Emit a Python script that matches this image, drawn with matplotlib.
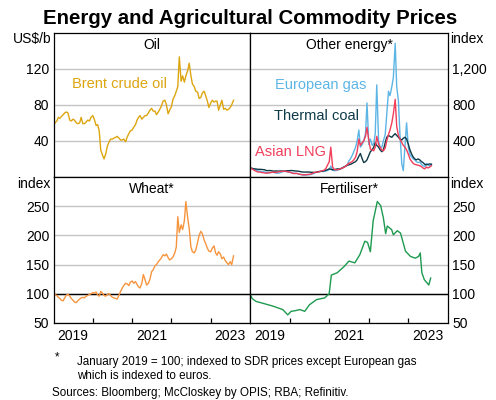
import pandas as pd
import matplotlib
matplotlib.use("Agg")
import matplotlib.pyplot as plt

plt.rcParams['font.family'] = ['Liberation Sans', 'DejaVu Sans']

# semi-monthly observations from Jan 2019 (1st and 15th of each month)
oil = [56, 60, 62, 66, 65, 67, 69, 71, 72, 71, 63, 62, 64, 63, 60, 59, 60, 66, 59, 59, 61, 63, 62, 66,
       68, 64, 57, 58, 51, 30, 24, 20, 26, 34, 39, 42, 42, 43, 44, 45, 43, 41, 41, 42, 39, 44, 48, 51,
       52, 55, 58, 63, 66, 68, 64, 66, 68, 68, 71, 74, 76, 73, 73, 69, 72, 75, 79, 84, 85, 80, 70, 74,
       78, 86, 90, 95, 100, 133, 106, 112, 105, 112, 118, 126, 112, 103, 100, 95, 94, 87, 88, 93, 95, 90, 84, 77,
       82, 85, 83, 84, 84, 74, 80, 85, 75, 76, 74, 75, 77, 80, 85]

euro_gas = [100, 92, 87, 82, 75, 68, 65, 60, 57, 56, 50, 47, 47, 50, 52, 50, 42, 42, 45, 52, 60, 62, 60, 55,
            52, 48, 43, 42, 40, 36, 30, 28, 22, 20, 22, 24, 25, 28, 35, 42, 52, 55, 60, 62, 61, 62, 66, 72,
            85, 120, 75, 70, 72, 74, 82, 88, 100, 110, 120, 130, 180, 200, 240, 280, 330, 400, 520, 330, 360, 400, 480, 820,
            360, 420, 350, 370, 480, 1020, 400, 330, 330, 400, 470, 690, 950, 900, 1000, 1100, 1480, 1000, 840, 470, 143, 70, 360, 600,
            320, 250, 220, 200, 190, 170, 160, 165, 140, 125, 115, 150, 135, 120, 143]

asian_lng = [100, 95, 80, 70, 62, 55, 55, 50, 48, 45, 42, 45, 48, 50, 55, 50, 52, 55, 60, 62, 62, 65, 62, 58,
             55, 48, 40, 38, 40, 38, 30, 28, 25, 25, 25, 28, 30, 32, 40, 50, 55, 52, 60, 65, 70, 75, 95, 130,
             170, 330, 110, 85, 80, 80, 85, 90, 100, 105, 120, 135, 150, 160, 170, 190, 220, 280, 420, 350, 380, 400, 450, 550,
             400, 310, 300, 290, 330, 450, 360, 330, 300, 290, 320, 400, 470, 520, 600, 700, 860, 560, 460, 420, 380, 350, 330, 300,
             250, 200, 170, 150, 140, 135, 130, 125, 115, 100, 90, 110, 100, 110, 125]

thermal_coal = [100, 98, 92, 90, 88, 85, 85, 84, 82, 80, 72, 70, 72, 70, 66, 65, 67, 65, 66, 67, 65, 66, 68, 70,
                70, 72, 70, 68, 66, 65, 62, 58, 55, 55, 54, 55, 55, 52, 52, 50, 52, 58, 60, 62, 65, 68, 75, 80,
                90, 85, 80, 82, 85, 90, 88, 92, 100, 110, 120, 130, 135, 140, 150, 160, 170, 190, 230, 260, 200, 160, 170, 190,
                240, 280, 300, 330, 380, 350, 330, 300, 280, 300, 380, 440, 460, 450, 440, 460, 480, 460, 440, 420, 410, 430, 440, 420,
                360, 300, 250, 220, 200, 190, 200, 190, 170, 160, 140, 135, 140, 145, 140]

wheat = [103, 99, 97, 94, 92, 89, 88, 93, 98, 99, 96, 92, 89, 86, 85, 88, 91, 93, 94, 93, 96, 97, 99, 100,
         102, 101, 103, 98, 96, 104, 101, 97, 96, 99, 100, 97, 94, 93, 92, 91, 98, 104, 110, 114, 118, 117, 114, 120,
         122, 118, 121, 116, 112, 110, 118, 133, 124, 115, 118, 125, 138, 141, 148, 150, 155, 158, 162, 167, 165, 168, 162, 158,
         160, 163, 170, 180, 232, 205, 218, 210, 225, 258, 230, 212, 180, 172, 170, 175, 188, 200, 207, 203, 192, 186, 178, 173,
         172, 178, 182, 170, 166, 172, 168, 160, 163, 157, 153, 150, 155, 150, 165]

fert_dates = ['2019-01-01', '2019-01-20', '2019-02-25', '2019-04-25', '2019-07-30', '2019-10-30', '2019-12-15',
              '2020-01-15', '2020-02-20', '2020-04-05', '2020-05-20', '2020-07-01', '2020-09-05', '2020-11-20',
              '2020-12-31', '2021-01-20', '2021-03-15', '2021-05-20', '2021-07-01', '2021-08-25', '2021-10-10',
              '2021-11-25', '2021-12-20', '2022-01-15', '2022-02-10', '2022-03-20', '2022-04-20', '2022-05-15',
              '2022-06-05', '2022-06-20', '2022-07-30', '2022-08-15', '2022-09-20', '2022-10-20', '2022-12-05',
              '2023-01-20', '2023-03-05', '2023-04-05', '2023-04-20', '2023-05-05', '2023-05-28', '2023-06-25',
              '2023-07-08', '2023-07-25']
fertiliser = [100, 92, 87, 84, 79, 73, 64, 70, 71, 73, 70, 81, 90, 93, 100, 132, 136, 147, 156, 153, 167,
              190, 188, 172, 225, 258, 251, 230, 203, 216, 210, 201, 208, 204, 173, 164, 161, 164, 170, 136,
              124, 118, 115, 127]

year_labels = ['2019', '2021', '2023']
label_dates = ['2019-07-01', '2021-07-01', '2023-07-01']

C_OIL = '#DDA50F'
C_GAS = '#5DB5E5'
C_COAL = '#0E3A48'
C_LNG = '#F03E5B'
C_WHEAT = '#F7953F'
C_FERT = '#1E9A50'
GRID = '#C4C4C4'


def semi_monthly(vals):
    return pd.date_range('2019-01-01', periods=len(vals), freq='SMS')


fig = plt.figure(figsize=(4.96, 4.0), dpi=100)
W, H = 496.0, 400.0
x0, xm, x1 = 53.5, 250, 448
ytop, ymid, ybot = 32.5, 177, 323
ax_oil = fig.add_axes([x0 / W, 1 - ymid / H, (xm - x0) / W, (ymid - ytop) / H])
ax_en = fig.add_axes([xm / W, 1 - ymid / H, (x1 - xm) / W, (ymid - ytop) / H])
ax_wh = fig.add_axes([x0 / W, 1 - ybot / H, (xm - x0) / W, (ybot - ymid) / H])
ax_fe = fig.add_axes([xm / W, 1 - ybot / H, (x1 - xm) / W, (ybot - ymid) / H])

ax_oil.plot(semi_monthly(oil), oil, color=C_OIL, lw=1.0)
ax_en.plot(semi_monthly(euro_gas), euro_gas, color=C_GAS, lw=1.0)
ax_en.plot(semi_monthly(thermal_coal), thermal_coal, color=C_COAL, lw=1.0)
ax_en.plot(semi_monthly(asian_lng), asian_lng, color=C_LNG, lw=1.0)
ax_wh.plot(semi_monthly(wheat), wheat, color=C_WHEAT, lw=1.0)
ax_fe.plot(pd.to_datetime(fert_dates), fertiliser, color=C_FERT, lw=1.0)

ax_oil.set_ylim(0, 160)
ax_oil.set_yticks([40, 80, 120])
ax_en.set_ylim(0, 1600)
ax_en.set_yticks([400, 800, 1200])
ax_en.set_yticklabels(['400', '800', '1,200'])
for ax in (ax_wh, ax_fe):
    ax.set_ylim(50, 300)
    ax.set_yticks([50, 100, 150, 200, 250])
    ax.axhline(100, color='black', lw=1.0, zorder=1)

for ax in (ax_en, ax_fe):
    ax.yaxis.tick_right()

for ax in (ax_oil, ax_en, ax_wh, ax_fe):
    ax.set_xlim(pd.Timestamp('2019-01-01'), pd.Timestamp('2024-01-01'))
    ax.grid(axis='y', color=GRID, lw=1.0, zorder=0)
    ax.set_axisbelow(True)
    ax.tick_params(axis='y', length=0, pad=3, labelsize=10)
    for s in ax.spines.values():
        s.set_color('black')
        s.set_linewidth(0.9)
    ax.set_xticks(pd.to_datetime(['2020-01-01', '2021-01-01', '2022-01-01', '2023-01-01']))
    ax.set_xticklabels([])
    ax.set_xticks(pd.to_datetime(label_dates), minor=True)

for ax in (ax_oil, ax_en):
    ax.tick_params(axis='x', which='both', length=0)
    ax.set_xticklabels([], minor=True)
for ax in (ax_wh, ax_fe):
    ax.tick_params(axis='x', which='major', direction='in', length=3.5, width=0.9)
    ax.tick_params(axis='x', which='minor', length=0, pad=4, labelsize=10)
    ax.set_xticklabels(year_labels, minor=True)

# panel titles
ax_oil.text(0.5, 0.914, 'Oil', transform=ax_oil.transAxes, ha='center', va='center', fontsize=10)
ax_en.text(0.5, 0.914, 'Other energy*', transform=ax_en.transAxes, ha='center', va='center', fontsize=10)
ax_wh.text(0.5, 0.918, 'Wheat*', transform=ax_wh.transAxes, ha='center', va='center', fontsize=10)
ax_fe.text(0.5, 0.918, 'Fertiliser*', transform=ax_fe.transAxes, ha='center', va='center', fontsize=10)

# series labels
ax_oil.text(pd.Timestamp('2019-06-20'), 103, 'Brent crude oil', color=C_OIL, ha='left', va='center', fontsize=10.5)
ax_en.text(pd.Timestamp('2019-08-20'), 1020, 'European gas', color=C_GAS, ha='left', va='center', fontsize=10.5)
ax_en.text(pd.Timestamp('2019-08-10'), 675, 'Thermal coal', color=C_COAL, ha='left', va='center', fontsize=10.5)
ax_en.text(pd.Timestamp('2019-02-20'), 272, 'Asian LNG', color=C_LNG, ha='left', va='center', fontsize=10.5)

# unit labels
fig.text(52 / W, 1 - 39 / H, 'US$/b', ha='right', va='center', fontsize=10)
fig.text(450 / W, 1 - 39 / H, 'index', ha='left', va='center', fontsize=10)
fig.text(51 / W, 1 - 184 / H, 'index', ha='right', va='center', fontsize=10)
fig.text(450 / W, 1 - 184 / H, 'index', ha='left', va='center', fontsize=10)

fig.text(250 / W, 1 - 19 / H, 'Energy and Agricultural Commodity Prices', ha='center', va='center',
         fontsize=14.7, fontweight='bold')

fig.text(55 / W, 1 - 357 / H, '*', ha='left', va='center', fontsize=8.4)
fig.text(77 / W, 1 - 362 / H, 'January 2019 = 100; indexed to SDR prices except European gas',
         ha='left', va='center', fontsize=8.4)
fig.text(77 / W, 1 - 376 / H, 'which is indexed to euros.', ha='left', va='center', fontsize=8.4)
fig.text(52 / W, 1 - 393 / H, 'Sources: Bloomberg; McCloskey by OPIS; RBA; Refinitiv.',
         ha='left', va='center', fontsize=8.4)

fig.savefig('out.png', dpi=100)
